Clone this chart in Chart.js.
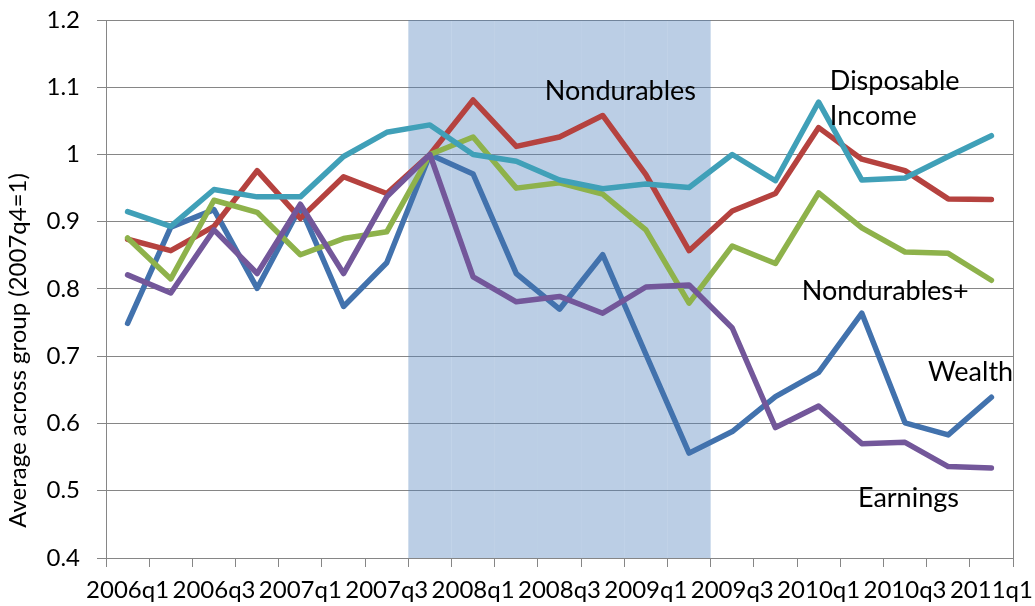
<!DOCTYPE html>
<html><head><meta charset="utf-8">
<script src="https://cdn.jsdelivr.net/npm/chart.js@4/dist/chart.umd.min.js"></script>
<style>html,body{margin:0;padding:0;background:#fff}</style>
</head><body>
<canvas id="c" width="1035" height="606"></canvas>
<script>
const quarters = ['2006q1','2006q2','2006q3','2006q4','2007q1','2007q2','2007q3','2007q4','2008q1','2008q2','2008q3','2008q4','2009q1','2009q2','2009q3','2009q4','2010q1','2010q2','2010q3','2010q4','2011q1'];
const xTickLabels = ['2006q1','2006q3','2007q1','2007q3','2008q1','2008q3','2009q1','2009q3','2010q1','2010q3','2011q1'];
const yTickLabels = ['0.4','0.5','0.6','0.7','0.8','0.9','1','1.1','1.2'];
const recession = [0,0,0,0,0,0,0,1,1,1,1,1,1,1,0,0,0,0,0,0,0];
const wealth = [0.749,0.892,0.918,0.801,0.922,0.774,0.839,1.0,0.971,0.823,0.770,0.851,0.703,0.556,0.588,0.640,0.676,0.764,0.601,0.583,0.639];
const nondurables = [0.874,0.857,0.893,0.976,0.905,0.967,0.942,1.0,1.081,1.012,1.026,1.058,0.970,0.857,0.916,0.942,1.040,0.993,0.976,0.934,0.933];
const nondurablesPlus = [0.876,0.815,0.932,0.914,0.851,0.875,0.885,1.0,1.026,0.950,0.958,0.941,0.888,0.779,0.864,0.838,0.943,0.891,0.855,0.853,0.813];
const earnings = [0.821,0.794,0.888,0.823,0.926,0.823,0.937,1.0,0.818,0.781,0.789,0.764,0.803,0.806,0.742,0.594,0.626,0.570,0.572,0.536,0.534];
const disposableIncome = [0.915,0.893,0.948,0.937,0.937,0.997,1.033,1.044,1.0,0.990,0.962,0.949,0.956,0.951,1.0,0.961,1.078,0.962,0.965,0.997,1.028];
const yMin = 0.4, yMax = 1.2;
const yTitle = 'Average across group (2007q4=1)';

const seriesLabels = [
  {text:'Nondurables', x:9.66, y:1.081},
  {text:'Disposable', x:16.26, y:1.096},
  {text:'Income', x:16.26, y:1.044},
  {text:'Nondurables+', x:15.61, y:0.784},
  {text:'Wealth', x:18.53, y:0.663},
  {text:'Earnings', x:16.91, y:0.476}
];

const FONT = 'Lato';
const GRID = '#868686';

const labelPlugin = {
  id: 'seriesLabels',
  beforeDatasetsDraw(chart) {
    const {ctx, chartArea: a} = chart;
    ctx.save();
    ctx.strokeStyle = GRID; ctx.lineWidth = 1;
    ctx.beginPath();
    ctx.moveTo(Math.round(a.right) + 0.5, a.top);
    ctx.lineTo(Math.round(a.right) + 0.5, a.bottom);
    ctx.stroke();
    ctx.restore();
  },
  afterDatasetsDraw(chart) {
    const {ctx, scales: {x, y}} = chart;
    ctx.save();
    ctx.font = '27px ' + FONT;
    ctx.fillStyle = '#000';
    ctx.textAlign = 'left';
    ctx.textBaseline = 'alphabetic';
    for (const l of seriesLabels) {
      ctx.fillText(l.text, x.getPixelForValue(l.x), y.getPixelForValue(l.y));
    }
    ctx.restore();
  }
};

function line(label, data, color, order) {
  return {type:'line', label, data, borderColor: color, backgroundColor: color, borderWidth: 5.5,
    pointRadius: 0, tension: 0, fill: false, borderJoinStyle: 'round', borderCapStyle: 'round', order};
}

new Chart(document.getElementById('c'), {
  type: 'line',
  data: {
    labels: quarters,
    datasets: [
      line('Disposable Income', disposableIncome, '#40a0b8', 1),
      line('Earnings', earnings, '#73579a', 2),
      line('Nondurables+', nondurablesPlus, '#8eb24b', 3),
      line('Nondurables', nondurables, '#b5423f', 4),
      line('Wealth', wealth, '#4272ad', 5),
      {type:'bar', label:'Recession', data: recession.map(r => r ? [yMin, yMax] : null),
        backgroundColor: 'rgba(79,129,189,0.39)', borderWidth: 0, inflateAmount: 0,
        barPercentage: 1, categoryPercentage: 1, order: 10}
    ]
  },
  options: {
    responsive: false,
    animation: false,
    layout: {padding: {top: 20, right: 22, left: 0, bottom: 0}},
    plugins: {legend: {display: false}, tooltip: {enabled: false}},
    scales: {
      x: {
        offset: true,
        grid: {offset: true, drawOnChartArea: false, drawTicks: true, tickLength: 9, color: GRID},
        border: {color: GRID},
        ticks: {autoSkip: false, maxRotation: 0, minRotation: 0, padding: 9, color: '#000',
          font: {family: FONT, size: 24},
          callback: (v, i) => i % 2 === 0 ? xTickLabels[i / 2] : ''},
        afterFit: s => { s.height = 48; s.paddingLeft = 0; s.paddingRight = 0; }
      },
      y: {
        min: yMin, max: yMax,
        grid: {color: GRID, tickLength: 9, drawTicks: true},
        border: {color: GRID},
        ticks: {stepSize: 0.1, padding: 17, color: '#000', font: {family: FONT, size: 24},
          callback: (v, i) => yTickLabels[i]},
        title: {display: true, text: yTitle + ' '.repeat(20), color: '#000', font: {family: FONT, size: 24}, padding: {top: 4, bottom: 4}},
        afterFit: s => { s.width = 106; s.paddingTop = 10; s.paddingBottom = 10; }
      }
    }
  },
  plugins: [labelPlugin]
});
</script>
</body></html>
